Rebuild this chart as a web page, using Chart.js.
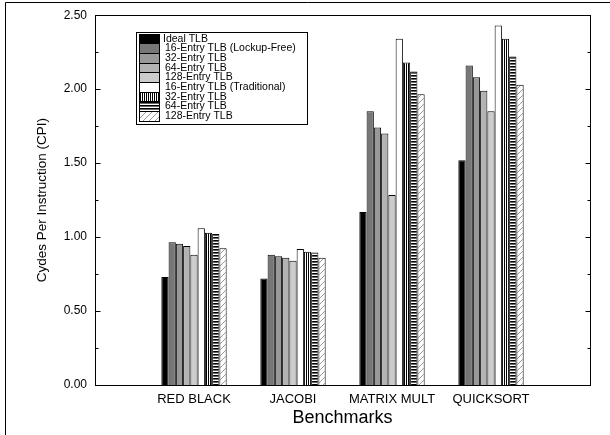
<!DOCTYPE html>
<html><head><meta charset="utf-8">
<script src="https://cdn.jsdelivr.net/npm/chart.js@4.4.1/dist/chart.umd.min.js"></script>
<style>html,body{margin:0;padding:0;background:#fff;} canvas{display:block;}</style>
</head><body>
<canvas id="c" width="610" height="435"></canvas>
<script>
const categories = ['RED BLACK', 'JACOBI', 'MATRIX MULT', 'QUICKSORT'];
const seriesNames = ['Ideal TLB', '16-Entry TLB (Lockup-Free)', '32-Entry TLB', '64-Entry TLB', '128-Entry TLB',
  '16-Entry TLB (Traditional)', '32-Entry TLB', '64-Entry TLB', '128-Entry TLB'];
const idealTLB       = [0.73, 0.72, 1.17, 1.52];
const lockupFree16   = [0.965, 0.88, 1.85, 2.16];
const lockupFree32   = [0.955, 0.87, 1.74, 2.08];
const lockupFree64   = [0.94, 0.86, 1.70, 1.99];
const lockupFree128  = [0.88, 0.84, 1.285, 1.85];
const traditional16  = [1.06, 0.92, 2.34, 2.43];
const traditional32  = [1.03, 0.90, 2.18, 2.34];
const traditional64  = [1.02, 0.895, 2.12, 2.22];
const traditional128 = [0.925, 0.86, 1.965, 2.03];
const yMin = 0, yMax = 2.5, yStep = 0.25;

const FONT = "'Liberation Sans', Arial, sans-serif";

function makePattern(w, h, draw) {
  const c = document.createElement('canvas');
  c.width = w; c.height = h;
  const g = c.getContext('2d');
  g.fillStyle = '#fff'; g.fillRect(0, 0, w, h);
  draw(g);
  return document.getElementById('c').getContext('2d').createPattern(c, 'repeat');
}
const vertStripes = makePattern(2, 2, g => { g.fillStyle = '#000'; g.fillRect(0, 0, 1, 2); });
const horizStripes = makePattern(3, 3, g => { g.fillStyle = '#000'; g.fillRect(0, 0, 3, 1); g.fillStyle = '#666'; g.fillRect(0, 1, 3, 1); });
const hatch = makePattern(6, 6, g => {
  g.strokeStyle = '#999'; g.lineWidth = 1;
  g.beginPath();
  g.moveTo(0, 6); g.lineTo(6, 0);
  g.moveTo(-1, 1); g.lineTo(1, -1);
  g.moveTo(5, 7); g.lineTo(7, 5);
  g.stroke();
});

const seriesValues = [idealTLB, lockupFree16, lockupFree32, lockupFree64, lockupFree128,
  traditional16, traditional32, traditional64, traditional128];
const fills = ['#000000', '#777777', '#999999', '#b3b3b3', '#cccccc', '#ffffff', vertStripes, horizStripes, hatch];

const labels = [''].concat(categories, ['']);
const datasets = seriesValues.map((vals, i) => ({
  label: seriesNames[i],
  data: [null].concat(vals, [null]),
  backgroundColor: fills[i],
  borderColor: '#000',
  borderWidth: 1,
  barPercentage: 1,
  categoryPercentage: 0.66
}));

const framePlugin = {
  id: 'frame',
  afterDraw(chart) {
    const ctx = chart.ctx;
    const a = chart.chartArea;
    const y = chart.scales.y;
    ctx.save();
    ctx.strokeStyle = '#000';
    ctx.lineWidth = 1;
    // outer frame
    ctx.beginPath();
    ctx.moveTo(5.5, 435); ctx.lineTo(5.5, 2.5); ctx.lineTo(610, 2.5);
    ctx.stroke();
    // plot box
    const L = Math.round(a.left) + 0.5, R = Math.round(a.right) + 0.5;
    const T = Math.round(a.top) + 0.5, B = Math.round(a.bottom) + 0.5;
    ctx.strokeRect(L, T, R - L, B - T);
    // inward ticks on left and right
    y.ticks.forEach(t => {
      const py = Math.round(y.getPixelForValue(t.value)) + 0.5;
      const major = Math.abs(Math.round(t.value * 100) % 50) === 0;
      const len = major ? 5 : 3;
      ctx.beginPath();
      ctx.moveTo(L, py); ctx.lineTo(L + len, py);
      ctx.moveTo(R, py); ctx.lineTo(R - len, py);
      ctx.stroke();
    });
    // legend
    const lx = 136.5, ly = 32.5, lw = 171, lh = 92;
    ctx.fillStyle = '#fff';
    ctx.fillRect(lx, ly, lw, lh);
    ctx.strokeRect(lx, ly, lw, lh);
    const sx = 139.5, sw = 20, sh = 9.7;
    let sy = 33.5;
    ctx.font = '10.5px ' + FONT;
    ctx.textBaseline = 'middle';
    ctx.textAlign = 'left';
    chart.data.datasets.forEach((ds, i) => {
      const top = Math.round(sy + i * sh) + 0.5;
      const bot = Math.round(sy + (i + 1) * sh) + 0.5;
      ctx.fillStyle = ds.backgroundColor;
      ctx.fillRect(sx, top, sw, bot - top);
      ctx.strokeStyle = '#000';
      ctx.strokeRect(sx, top, sw, bot - top);
      ctx.fillStyle = '#000';
      ctx.fillText(ds.label, i === 0 ? 163 : 165, (top + bot) / 2);
    });
    ctx.restore();
  }
};

new Chart(document.getElementById('c'), {
  type: 'bar',
  data: { labels, datasets },
  options: {
    responsive: false,
    animation: false,
    events: [],
    layout: { padding: { left: 0, right: 20, top: 15, bottom: 0 } },
    plugins: { legend: { display: false }, tooltip: { enabled: false } },
    scales: {
      x: {
        type: 'category',
        offset: false,
        grid: { display: false, drawTicks: false },
        border: { display: false },
        ticks: { autoSkip: false, maxRotation: 0, padding: 7, color: '#000', font: { family: FONT, size: 13 } },
        title: { display: true, text: 'Benchmarks', color: '#000', font: { family: FONT, size: 18 }, padding: { top: 0, bottom: 6 } },
        afterFit: s => { s.height = 50; }
      },
      y: {
        min: yMin, max: yMax,
        grid: { display: false, drawTicks: false },
        border: { display: false },
        ticks: {
          stepSize: yStep, autoSkip: false, padding: 8, color: '#000',
          font: { family: FONT, size: 12 },
          callback: v => (Math.abs(Math.round(v * 100) % 50) === 0 ? v.toFixed(2) : '')
        },
        title: { display: true, text: 'Cydes Per Instruction (CPI)', color: '#000', font: { family: FONT, size: 13.5 }, padding: { top: 34, bottom: 0 } },
        afterFit: s => { s.width = 95; }
      }
    }
  },
  plugins: [framePlugin]
});
</script>
</body></html>
